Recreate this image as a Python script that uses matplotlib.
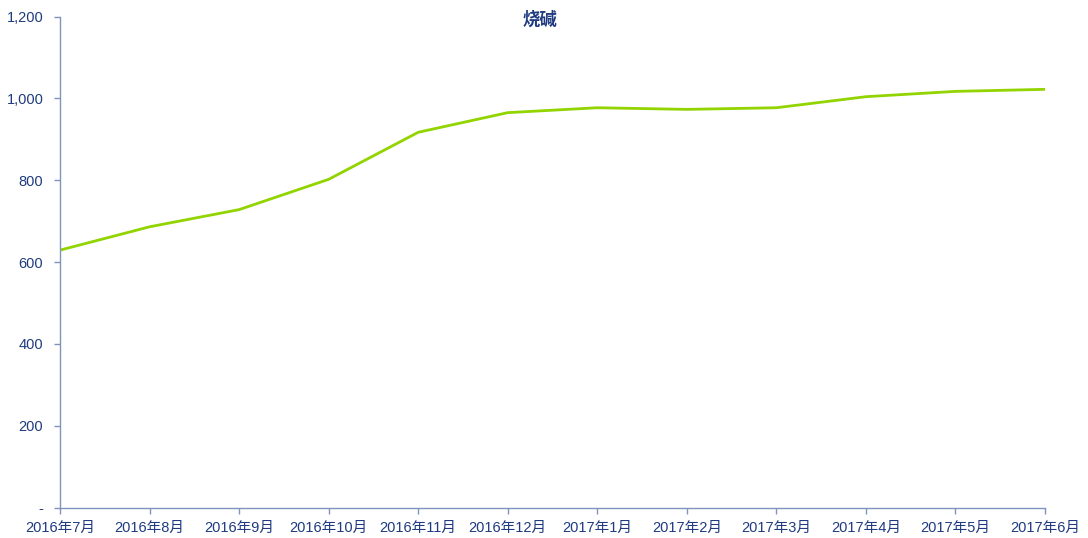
import matplotlib
matplotlib.use('Agg')
import matplotlib.pyplot as plt
from matplotlib.ticker import FuncFormatter

plt.rcParams['font.family'] = ['Liberation Sans', 'Noto Sans CJK SC', 'DejaVu Sans']

months = ['2016年7月', '2016年8月', '2016年9月', '2016年10月', '2016年11月', '2016年12月',
          '2017年1月', '2017年2月', '2017年3月', '2017年4月', '2017年5月', '2017年6月']
values = [629, 686, 728, 802, 917, 965, 977, 973, 977, 1004, 1017, 1022]
yticks = [0, 200, 400, 600, 800, 1000, 1200]

text_color = '#1F3A80'
axis_color = '#7F93BD'
line_color = '#92D400'

fig = plt.figure(figsize=(10.88, 5.38), dpi=100)
ax = fig.add_axes([60 / 1088, 1 - 507.5 / 538, (1045 - 60) / 1088, (507.5 - 16.5) / 538])

x = list(range(len(months)))
ax.plot(x, values, color=line_color, linewidth=2.0, solid_capstyle='round')

ax.set_xlim(0, len(months) - 1)
ax.set_ylim(0, 1200)
ax.set_xticks(x)
ax.set_xticklabels(months)
ax.set_yticks(yticks)
ax.yaxis.set_major_formatter(FuncFormatter(lambda v, p: '-' if v == 0 else f'{int(v):,}'))

for s in ['top', 'right']:
    ax.spines[s].set_visible(False)
for s in ['left', 'bottom']:
    ax.spines[s].set_color(axis_color)
    ax.spines[s].set_linewidth(1.0)

ax.tick_params(axis='both', colors=axis_color, length=4, width=1.0, labelsize=10.5,
               labelcolor=text_color)
ax.tick_params(axis='y', pad=8)
ax.tick_params(axis='x', pad=6)

fig.text(540 / 1088, 1 - 19 / 538, '烧碱', ha='center', va='center', fontsize=12.5,
         fontweight='bold', color=text_color)

fig.savefig('out.png', dpi=100)
